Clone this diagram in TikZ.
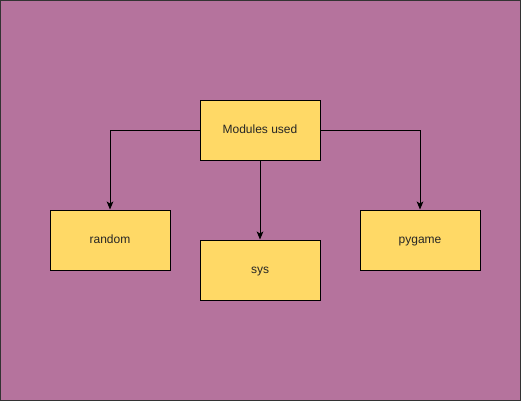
\documentclass[tikz,border=0pt]{standalone}
\usepackage{fontspec}
\setmainfont{Liberation Sans}
\usetikzlibrary{arrows.meta}
\definecolor{bgpurple}{HTML}{B5739D}
\definecolor{boxyellow}{HTML}{FFD966}
\begin{document}
\begin{tikzpicture}[x=0.75pt,y=-0.75pt,
  modbox/.style={draw=black,fill=boxyellow,line width=0.75pt,minimum width=90pt,minimum height=45pt,inner sep=0pt,text height=6.6pt,text depth=2pt,font=\fontsize{9pt}{11pt}\selectfont,text=black!85},
  conn/.style={draw=black,line width=0.75pt,-{Stealth[length=6pt,width=5pt,inset=1.5pt]}}]
\path[fill=bgpurple,draw=black!80,line width=0.75pt] (0.5,0.5) rectangle (520.5,400.5);
\useasboundingbox (0,0) rectangle (521,401);
\node[modbox] (mods) at (260,130) {Modules used};
\node[modbox] (rand) at (110,240) {random};
\node[modbox] (sys) at (260,270) {sys};
\node[modbox] (pyg) at (420,240) {pygame};
\draw[conn] (mods.west) -| (rand.north);
\draw[conn] (mods.east) -| (pyg.north);
\draw[conn] (mods.south) -- (sys.north);
\end{tikzpicture}
\end{document}
